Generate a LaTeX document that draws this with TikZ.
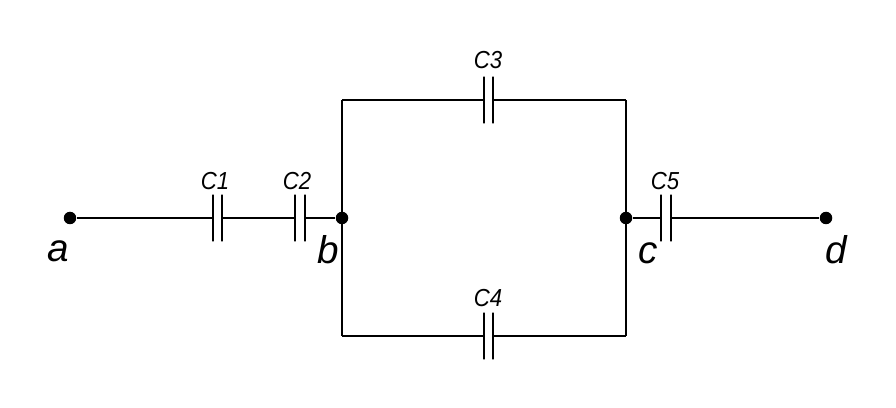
\documentclass[tikz,border=0pt]{standalone}
\usepackage{fontspec}
\setmainfont{Liberation Sans}
\usetikzlibrary{positioning}

\begin{document}
\begin{tikzpicture}[x=0.02cm,y=-0.02cm,line width=1.1pt]
\tikzstyle{plate}=[draw,inner sep=0pt,minimum width=0pt,minimum height=0.94cm]
\tikzstyle{junction}=[circle,fill,inner sep=0pt,minimum size=0.25cm]
\tikzstyle{caplabel}=[font=\itshape\fontsize{14}{16}\selectfont,inner sep=0pt,xscale=0.9]
\tikzstyle{termlabel}=[font=\itshape\fontsize{22}{26}\selectfont,inner sep=0pt]
\useasboundingbox (0,0) rectangle (896,408);
\node [junction] (a) at (70,218) {};
\node [junction] (b) at (342,218) {};
\node [junction] (c) at (626,218) {};
\node [junction] (d) at (826,218) {};
\coordinate (tl) at (342,100);
\coordinate (tr) at (626,100);
\coordinate (bl) at (342,336);
\coordinate (br) at (626,336);
\node [plate] (c1l) at (213,218) {};
\node [plate] (c1r) at (222,218) {};
\node [plate] (c2l) at (295,218) {};
\node [plate] (c2r) at (305,218) {};
\node [plate] (c3l) at (484,100) {};
\node [plate] (c3r) at (493,100) {};
\node [plate] (c4l) at (484,336) {};
\node [plate] (c4r) at (493,336) {};
\node [plate] (c5l) at (661,218) {};
\node [plate] (c5r) at (671,218) {};
\draw (a) -- (c1l);
\draw (c1r) -- (c2l);
\draw (c2r) -- (b);
\draw (tl) -- (bl);
\draw (tl) -- (c3l);
\draw (c3r) -- (tr);
\draw (bl) -- (c4l);
\draw (c4r) -- (br);
\draw (tr) -- (br);
\draw (c) -- (c5l);
\draw (c5r) -- (d);
\node [caplabel] (lc1) at (215,181) {C1};
\node [caplabel] (lc2) at (297,181) {C2};
\node [caplabel] (lc3) at (488,60) {C3};
\node [caplabel] (lc4) at (488,298) {C4};
\node [caplabel] (lc5) at (665,181) {C5};
\node [termlabel] (la) at (58,251) {a};
\node [termlabel] (lb) at (328,250) {b};
\node [termlabel] (lc) at (648,253) {c};
\node [termlabel] (ld) at (836,250) {d};
\end{tikzpicture}
\end{document}
